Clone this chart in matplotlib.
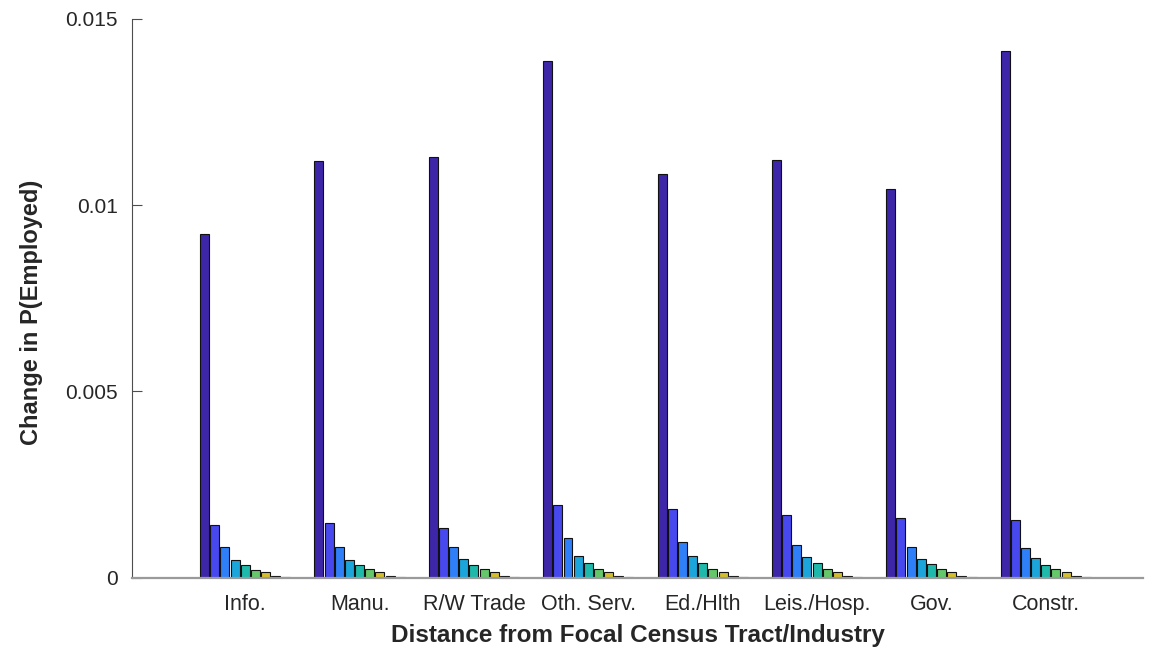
import matplotlib.pyplot as plt
import numpy as np

# ── Data ──────────────────────────────────────────────────────────────────────
industries = ["Info.", "Manu.", "R/W Trade", "Oth. Serv.", "Ed./Hlth",
              "Leis./Hosp.", "Gov.", "Constr."]

# one list per distance band (0 = focal tract), values per industry
band0 = [0.009216, 0.011192, 0.011283, 0.01386, 0.010827, 0.01122, 0.01044, 0.01412]
band1 = [0.001405, 0.001467, 0.001333, 0.001959, 0.001834, 0.001673, 0.001592, 0.001548]
band2 = [0.000814, 0.000823, 0.000823, 0.001056, 0.000966, 0.000877, 0.000823, 0.000796]
band3 = [0.000483, 0.000483, 0.000492, 0.000573, 0.000581, 0.000555, 0.000501, 0.000528]
band4 = [0.000331, 0.000340, 0.000340, 0.000385, 0.000394, 0.000394, 0.000367, 0.000340]
band5 = [0.000215, 0.000224, 0.000224, 0.000242, 0.000224, 0.000224, 0.000224, 0.000224]
band6 = [0.000143, 0.000152, 0.000152, 0.000143, 0.000143, 0.000152, 0.000152, 0.000152]
band7 = [0.000045, 0.000054, 0.000054, 0.000045, 0.000045, 0.000045, 0.000045, 0.000045]
band8 = [0.000008, 0.000008, 0.000008, 0.000008, 0.000008, 0.000008, 0.000008, 0.000008]
bands = [band0, band1, band2, band3, band4, band5, band6, band7, band8]

# parula(9)-like colours
colors = ["#3E26A8", "#4748EE", "#2F80F8", "#1CA5DB", "#1FB9AC",
          "#64C86A", "#D4BE2C", "#F5BB3A", "#F9F914"]

plt.rcParams["font.family"] = ["Liberation Sans", "DejaVu Sans"]
TXT = "#262626"

fig = plt.figure(figsize=(11.59, 6.51), dpi=100)
ax = fig.add_axes([0.1139, 0.1126, 0.8723, 0.8587])

x = np.arange(1, len(industries) + 1)
n = len(bands)
slot = 0.8 / n
for k, (vals, c) in enumerate(zip(bands, colors)):
    ax.bar(x + (k - (n - 1) / 2) * slot, vals, width=slot * 0.88,
           color=c, edgecolor="#111111", linewidth=0.8, zorder=2)

ax.set_xlim(0.01, 8.85)
ax.set_ylim(0, 0.015)
ax.set_yticks([0, 0.005, 0.01, 0.015])
ax.set_yticklabels(["0", "0.005", "0.01", "0.015"])
ax.set_xticks(x)
ax.set_xticklabels(industries)

for s in ["top", "right"]:
    ax.spines[s].set_visible(False)
ax.spines["left"].set_color("#4d4d4d")
ax.spines["left"].set_linewidth(0.8)
ax.spines["bottom"].set_color("#9a9a9a")
ax.spines["bottom"].set_linewidth(1.6)
ax.spines["bottom"].set_zorder(3)

ax.tick_params(axis="y", direction="in", length=7, width=0.8, color="#4d4d4d",
               labelsize=15, labelcolor=TXT, pad=10)
ax.tick_params(axis="x", length=0, labelsize=15.5, labelcolor=TXT, pad=12)

ax.set_ylabel("Change in P(Employed)", fontsize=17, fontweight="bold",
              color=TXT)
ax.yaxis.set_label_coords(-0.088, 0.475)
ax.set_xlabel("Distance from Focal Census Tract/Industry", fontsize=17.5,
              fontweight="bold", color=TXT, labelpad=6)

fig.savefig("out.png", dpi=100, facecolor="white")
